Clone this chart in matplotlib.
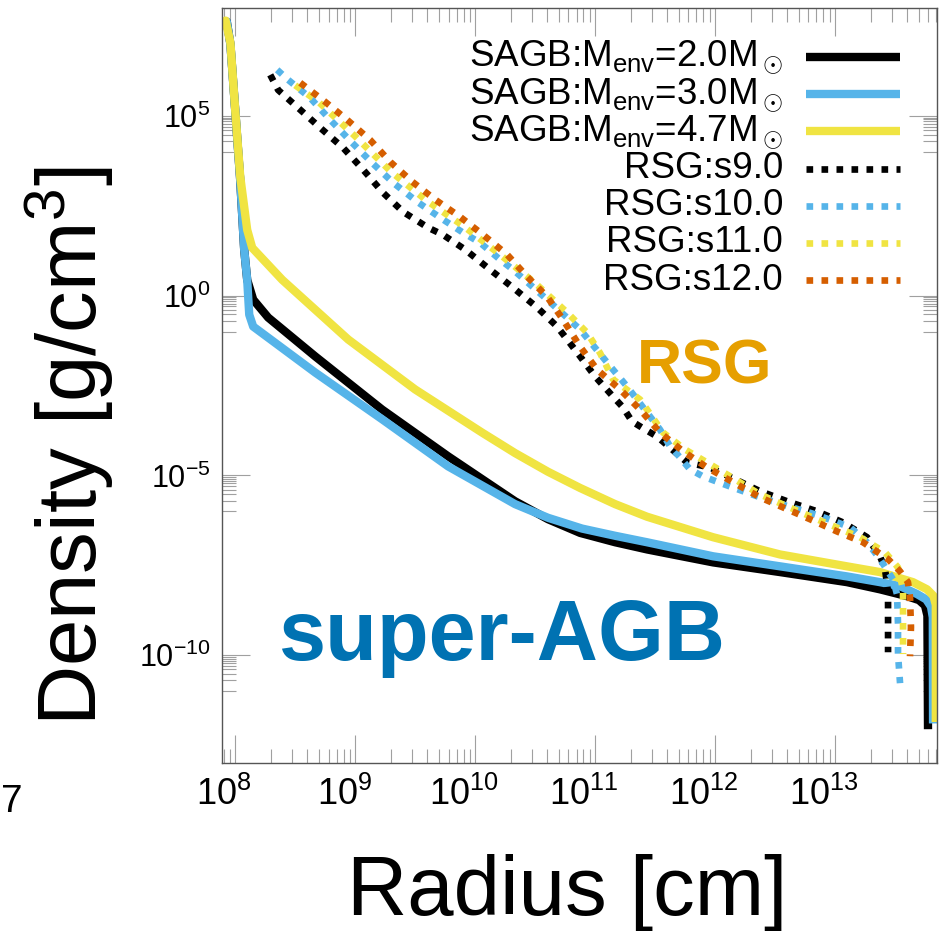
import numpy as np
import matplotlib
matplotlib.use('Agg')
import matplotlib.pyplot as plt
from matplotlib.ticker import FixedLocator, LogLocator, LogFormatterSciNotation, NullFormatter
from matplotlib.transforms import ScaledTranslation

plt.rcParams['font.family'] = ['Liberation Sans', 'DejaVu Sans']
plt.rcParams['mathtext.fontset'] = 'custom'
plt.rcParams['mathtext.rm'] = 'Liberation Sans'
plt.rcParams['mathtext.it'] = 'Liberation Sans:italic'
plt.rcParams['mathtext.bf'] = 'Liberation Sans:bold'

# log10(radius [cm]) and log10(density [g/cm^3])

# SAGB models (solid)
sagb20_logr = [7.89, 7.93, 7.96, 8.00, 8.04, 8.075, 8.10, 8.15, 8.275, 8.667, 9.225, 9.775, 10.333,
               10.608, 10.875, 11.167, 11.433, 11.983, 12.542, 13.10, 13.375, 13.60, 13.70, 13.75, 13.77, 13.775]
sagb20_logrho = [7.55, 7.62, 7.00, 5.17, 3.31, 1.28, 0.44, -0.11, -0.61, -1.69, -3.17, -4.47, -5.72,
                 -6.22, -6.60, -6.86, -7.06, -7.42, -7.69, -7.97, -8.17, -8.36, -8.47, -8.62, -8.90, -12.06]

sagb30_logr = [7.89, 7.93, 7.96, 8.00, 8.04, 8.075, 8.10, 8.117, 8.15, 8.667, 9.225, 9.775, 10.333,
               10.608, 10.892, 11.167, 11.433, 11.983, 12.542, 13.10, 13.375, 13.542, 13.683, 13.76, 13.80,
               13.815, 13.817]
sagb30_logrho = [7.55, 7.62, 7.00, 5.17, 3.31, 1.28, 0.44, -0.53, -0.86, -2.14, -3.44, -4.75, -5.80,
                 -6.18, -6.48, -6.68, -6.86, -7.25, -7.53, -7.81, -7.97, -8.08, -8.30, -8.45, -8.65,
                 -8.95, -11.90]

sagb47_logr = [7.89, 7.92, 7.96, 8.00, 8.042, 8.10, 8.142, 8.392, 8.942, 9.50, 10.058, 10.333, 10.608,
               10.875, 11.167, 11.433, 11.983, 12.542, 13.10, 13.375, 13.65, 13.767, 13.82, 13.84, 13.84]
sagb47_logrho = [7.55, 7.65, 7.03, 5.17, 3.31, 1.83, 1.33, 0.44, -1.22, -2.61, -3.81, -4.38, -4.90,
                 -5.35, -5.80, -6.15, -6.72, -7.20, -7.53, -7.69, -7.97, -8.17, -8.35, -8.60, -11.86]

# RSG models (dotted)
s9_logr = [8.292, 8.358, 8.542, 8.708, 8.90, 9.067, 9.233, 9.40, 9.608, 9.733, 9.917, 10.125, 10.317,
           10.517, 10.683, 10.767, 10.875, 11.00, 11.15, 11.233, 11.308, 11.40, 11.517, 11.767, 11.958,
           12.375, 12.60, 12.85, 13.067, 13.267, 13.375, 13.417, 13.442, 13.442]
s9_logrho = [6.14, 5.72, 5.17, 4.67, 4.11, 3.50, 2.86, 2.33, 1.89, 1.69, 1.28, 0.72, 0.22,
             -0.33, -0.86, -1.22, -1.69, -2.25, -2.81, -3.11, -3.50, -3.69, -3.92, -4.64, -4.78,
             -5.44, -5.72, -6.00, -6.31, -6.72, -7.25, -7.61, -8.25, -9.92]

s10_logr = [8.35, 8.442, 8.625, 8.792, 8.975, 9.142, 9.317, 9.517, 9.708, 9.90, 10.042, 10.208, 10.317,
            10.60, 10.875, 11.10, 11.267, 11.54, 11.625, 11.708, 11.79, 11.90, 12.125, 12.35, 12.60,
            12.85, 13.125, 13.267, 13.375, 13.483, 13.517, 13.525, 13.525, 13.542]
s10_logrho = [6.28, 6.00, 5.50, 4.89, 4.25, 3.69, 3.14, 2.61, 2.17, 1.75, 1.47, 1.00, 0.72,
              -0.11, -0.94, -1.86, -2.53, -3.72, -4.19, -4.50, -4.83, -5.03, -5.31, -5.58, -5.85,
              -6.10, -6.44, -6.86, -7.33, -7.89, -8.31, -9.14, -9.97, -10.78]

s11_logr = [8.50, 8.70, 9.00, 9.30, 9.60, 9.90, 10.20, 10.50, 10.767, 10.933, 11.042, 11.15, 11.375,
            11.567, 11.75, 11.958, 12.375, 12.792, 13.208, 13.417, 13.525, 13.567, 13.567]
s11_logrho = [5.85, 5.37, 4.43, 3.44, 2.63, 1.94, 1.16, 0.35, -0.47, -1.03, -1.60, -2.33, -2.89,
              -3.81, -4.28, -4.69, -5.53, -6.14, -6.72, -7.14, -7.56, -8.17, -9.97]

s12_logr = [8.542, 8.75, 8.933, 9.125, 9.292, 9.475, 9.667, 9.875, 10.067, 10.267, 10.433, 10.60, 10.733,
            10.875, 11.017, 11.208, 11.375, 11.542, 11.733, 11.933, 12.15, 12.375, 12.60, 12.792, 13.017,
            13.233, 13.442, 13.542, 13.608, 13.625, 13.633, 13.625]
s12_logrho = [5.92, 5.39, 4.89, 4.33, 3.72, 3.17, 2.67, 2.19, 1.69, 1.14, 0.53, -0.03, -0.67,
              -1.42, -2.06, -2.61, -3.17, -3.81, -4.33, -4.78, -5.19, -5.61, -5.94, -6.22, -6.56,
              -6.86, -7.33, -7.67, -7.97, -8.39, -9.22, -10.03]

labels = [r'SAGB:M$_{\rm env}$=2.0M$_\odot$', r'SAGB:M$_{\rm env}$=3.0M$_\odot$',
          r'SAGB:M$_{\rm env}$=4.7M$_\odot$', 'RSG:s9.0', 'RSG:s10.0', 'RSG:s11.0', 'RSG:s12.0']
series = [(sagb20_logr, sagb20_logrho), (sagb30_logr, sagb30_logrho), (sagb47_logr, sagb47_logrho),
          (s9_logr, s9_logrho), (s10_logr, s10_logrho), (s11_logr, s11_logrho), (s12_logr, s12_logrho)]
colors = ['black', '#56B4E9', '#F0E442', 'black', '#56B4E9', '#F0E442', '#D55E00']
solid = [True, True, True, False, False, False, False]

fig = plt.figure(figsize=(9.41, 9.31), dpi=100)
ax = fig.add_axes([222/941, 168/931, 715/941, 755/931])

solid_lw = 6.0
dot_lw = 4.8

for (lr, lrho), c, s in zip(series, colors, solid):
    x = 10**np.array(lr)
    y = 10**np.array(lrho)
    if s:
        ax.plot(x, y, color=c, lw=solid_lw, solid_joinstyle='round', solid_capstyle='butt')
    else:
        ax.plot(x, y, color=c, lw=dot_lw, linestyle=(0, (1.0, 1.25)), dash_capstyle='butt')

ax.set_xscale('log')
ax.set_yscale('log')
ax.set_xlim(10**7.89, 10**13.85)
ax.set_ylim(1e-13, 1e8)

ax.xaxis.set_major_locator(FixedLocator([1e8, 1e9, 1e10, 1e11, 1e12, 1e13]))
ax.xaxis.set_minor_locator(LogLocator(base=10, subs=np.arange(2, 10), numticks=30))
ax.xaxis.set_major_formatter(LogFormatterSciNotation())
ax.xaxis.set_minor_formatter(NullFormatter())

ymajor = [1e-10, 1e-5, 1e0, 1e5]
yminor = [k * m / 10 for m in ymajor for k in range(1, 10)]
ax.yaxis.set_major_locator(FixedLocator(ymajor))
ax.yaxis.set_minor_locator(FixedLocator(yminor))
ax.yaxis.set_major_formatter(LogFormatterSciNotation())
ax.yaxis.set_minor_formatter(NullFormatter())

ax.tick_params(which='both', direction='in', top=True, right=True, color='#a0a0a0', width=0.8)
ax.tick_params(which='major', length=20)
ax.tick_params(which='minor', length=10)
ax.tick_params(axis='x', which='major', labelsize=26, pad=10)
ax.tick_params(axis='y', which='major', labelsize=22, pad=8.5)
for sp in ax.spines.values():
    sp.set_color('#555555')
    sp.set_linewidth(1.0)

shift = ScaledTranslation(-11/100, 0, fig.dpi_scale_trans)
for lab in ax.get_xticklabels():
    lab.set_transform(lab.get_transform() + shift)

# key, gnuplot style: label right-justified, sample to the right
text_x = 0.7846
line_x = [0.8168, 0.9483]
row0 = 0.9351
pitch = 0.04927
for i, (lab, c, s) in enumerate(zip(labels, colors, solid)):
    yy = row0 - i * pitch
    ax.text(text_x, yy, lab, transform=ax.transAxes, ha='right', va='center', fontsize=26.5)
    if s:
        ax.plot(line_x, [yy, yy], transform=ax.transAxes, color=c, lw=solid_lw,
                solid_capstyle='butt', clip_on=False)
    else:
        ax.plot(line_x, [yy, yy], transform=ax.transAxes, color=c, lw=dot_lw,
                linestyle=(0, (1.0, 1.25)), dash_capstyle='butt', clip_on=False)

ax.text(0.5804, 0.5033, 'RSG', transform=ax.transAxes, fontsize=45, fontweight='bold',
        color='#E69F00', ha='left', va='baseline')
ax.text(0.0783, 0.1364, 'super-AGB', transform=ax.transAxes, fontsize=61, fontweight='bold',
        color='#0072B2', ha='left', va='baseline')

fig.text(0.0744, 0.521, 'Density [g/cm$^3$]', rotation=90, fontsize=60, ha='center', va='center')
fig.text(0.6026, 0.0172, 'Radius [cm]', fontsize=60, ha='center', va='baseline')
fig.text(0.001, 0.1278, '7', fontsize=28, ha='left', va='baseline')

fig.savefig('out.png', dpi=100)
